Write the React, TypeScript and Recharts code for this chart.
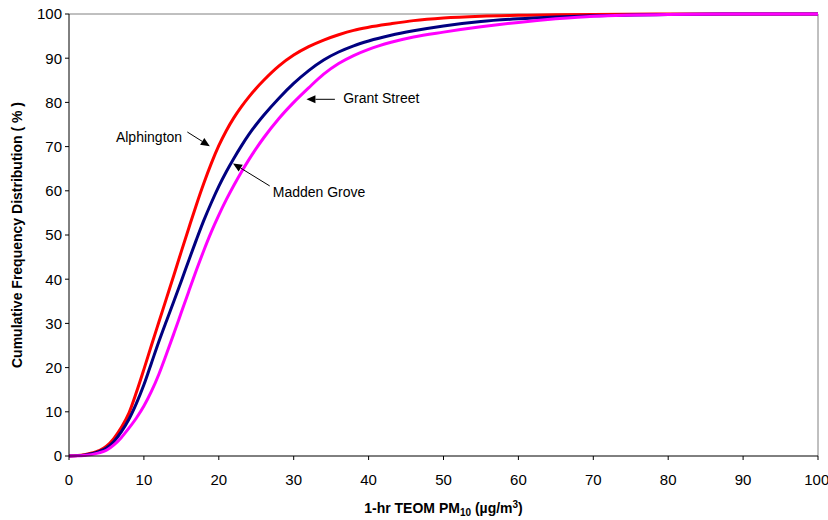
import React from 'react';
import { LineChart, Line, XAxis, YAxis, ReferenceLine } from 'recharts';

// PM10 concentration (µg/m3)
const pm10 = [0, 2, 4, 5, 6, 7, 8, 9, 10, 11, 12, 13, 14, 15, 16, 17, 18, 19, 20, 21, 22, 23, 24, 25, 26, 28, 30, 32, 34, 36, 38, 40, 43, 46, 50, 55, 60, 65, 70, 80, 90, 100];

// cumulative frequency (%) per site
const alphington = [0, 0.3, 1.2, 2.2, 4, 6.5, 9.7, 14.4, 19.6, 25, 30.3, 35.6, 40.9, 46.3, 51.6, 56.8, 61.7, 66.2, 70.2, 73.6, 76.5, 79, 81.2, 83.2, 85, 88.2, 90.7, 92.6, 94.1, 95.3, 96.3, 97, 97.8, 98.5, 99.1, 99.5, 99.7, 99.85, 99.9, 100, 100, 100];
const maddenGrove = [0, 0.2, 1.0, 1.8, 3.3, 5.5, 8.3, 11.9, 16.1, 21, 25.9, 30.5, 35, 39.6, 44.3, 48.9, 53.3, 57.3, 61, 64.3, 67.3, 70.1, 72.7, 75, 77.1, 80.9, 84.3, 87.2, 89.6, 91.4, 92.8, 93.9, 95.2, 96.2, 97.3, 98.3, 98.9, 99.3, 99.6, 99.9, 100, 100];
const grantStreet = [0, 0.1, 0.7, 1.3, 2.5, 4.2, 6.3, 8.6, 11.3, 14.6, 18.5, 23, 27.7, 32.5, 37.3, 42, 46.5, 50.7, 54.5, 58, 61.2, 64.2, 67, 69.6, 72, 76.3, 80, 83.3, 86.4, 88.8, 90.6, 92, 93.6, 94.8, 95.9, 97.1, 98.1, 98.9, 99.5, 99.9, 100, 100];

const ticks = [0, 10, 20, 30, 40, 50, 60, 70, 80, 90, 100];

// annotation labels: text position, arrow from -> to (data coords)
const notes = [
  { text: 'Alphington', tx: 15.1, ty: 72.2, anchor: 'end', from: [15.8, 73.3], to: [18.8, 70.1] },
  { text: 'Grant Street', tx: 36.6, ty: 81, anchor: 'start', from: [35.5, 80.7], to: [31.7, 80.7] },
  { text: 'Madden Grove', tx: 27.2, ty: 59.7, anchor: 'start', from: [26.8, 61.1], to: [21.9, 66.2] },
];

const data = pm10.map((x, i) => ({
  x,
  alphington: alphington[i],
  madden: maddenGrove[i],
  grant: grantStreet[i],
}));

const font = 'Arial, "Liberation Sans", sans-serif';

const Arrow = (props: any) => {
  const { x1, y1, x2, y2 } = props;
  const dx = x2 - x1;
  const dy = y2 - y1;
  const len = Math.sqrt(dx * dx + dy * dy) || 1;
  const ux = dx / len;
  const uy = dy / len;
  const hl = 9;
  const hw = 4;
  const bx = x2 - ux * hl;
  const by = y2 - uy * hl;
  const pts = `${x2},${y2} ${bx - uy * hw},${by + ux * hw} ${bx + uy * hw},${by - ux * hw}`;
  return (
    <g>
      <line x1={x1} y1={y1} x2={bx} y2={by} stroke="#000" strokeWidth={1} />
      <polygon points={pts} fill="#000" />
    </g>
  );
};

export default function App() {
  return (
    <div style={{ width: 828, height: 520, background: '#fff', fontFamily: font }}>
      <style>{'body{margin:0}'}</style>
      <LineChart
        width={828}
        height={520}
        data={data}
        margin={{ top: 14, right: 10, left: 0, bottom: 0 }}
      >
        <XAxis
          dataKey="x"
          type="number"
          domain={[0, 100]}
          ticks={ticks}
          height={64}
          tickSize={4}
          tickMargin={14}
          axisLine={{ stroke: '#000' }}
          tickLine={{ stroke: '#000' }}
          tick={{ fill: '#000', fontSize: 15, fontFamily: font }}
          label={(p: any) => {
            const vb = p.viewBox || {};
            const cx = (vb.x || 69) + (vb.width || 749) / 2;
            return (
              <text x={cx} y={513} textAnchor="middle" fontSize={14} fontWeight="bold" fontFamily={font} fill="#000">
                1-hr TEOM PM
                <tspan fontSize={10} dy={3}>10</tspan>
                <tspan dy={-3}> (</tspan>
                <tspan>µg/m</tspan>
                <tspan fontSize={10} dy={-5}>3</tspan>
                <tspan dy={5}>)</tspan>
              </text>
            );
          }}
        />
        <YAxis
          type="number"
          domain={[0, 100]}
          ticks={ticks}
          width={69}
          tickSize={4}
          tickMargin={3}
          axisLine={{ stroke: '#000' }}
          tickLine={{ stroke: '#000' }}
          tick={{ fill: '#000', fontSize: 15, fontFamily: font }}
          label={(p: any) => {
            const vb = p.viewBox || {};
            const cy = (vb.y || 14) + (vb.height || 442) / 2;
            return (
              <text
                x={22}
                y={cy}
                transform={`rotate(-90, 22, ${cy})`}
                textAnchor="middle"
                fontSize={14}
                fontWeight="bold"
                fontFamily={font}
                fill="#000"
              >
                Cumulative Frequency Distribution ( % )
              </text>
            );
          }}
        />
        <ReferenceLine y={100} stroke="#808080" strokeWidth={1} />
        <ReferenceLine x={100} stroke="#808080" strokeWidth={1} />
        <Line type="monotone" dataKey="alphington" stroke="#FF0000" strokeWidth={3} dot={false} isAnimationActive={false} />
        <Line type="monotone" dataKey="madden" stroke="#000080" strokeWidth={3} dot={false} isAnimationActive={false} />
        <Line type="monotone" dataKey="grant" stroke="#FF00FF" strokeWidth={3} dot={false} isAnimationActive={false} />
        {notes.map((n) => (
          <ReferenceLine
            key={n.text + '-arrow'}
            segment={[{ x: n.from[0], y: n.from[1] }, { x: n.to[0], y: n.to[1] }]}
            shape={(p: any) => <Arrow {...p} />}
          />
        ))}
        {notes.map((n) => (
          <ReferenceLine
            key={n.text}
            segment={[{ x: n.tx, y: n.ty }, { x: n.tx, y: n.ty }]}
            stroke="none"
            shape={(p: any) => (
              <text
                x={p.x1}
                y={p.y1}
                dy={5}
                textAnchor={n.anchor as any}
                fontSize={14}
                fontFamily={font}
                fill="#000"
              >
                {n.text}
              </text>
            )}
          />
        ))}
      </LineChart>
    </div>
  );
}
